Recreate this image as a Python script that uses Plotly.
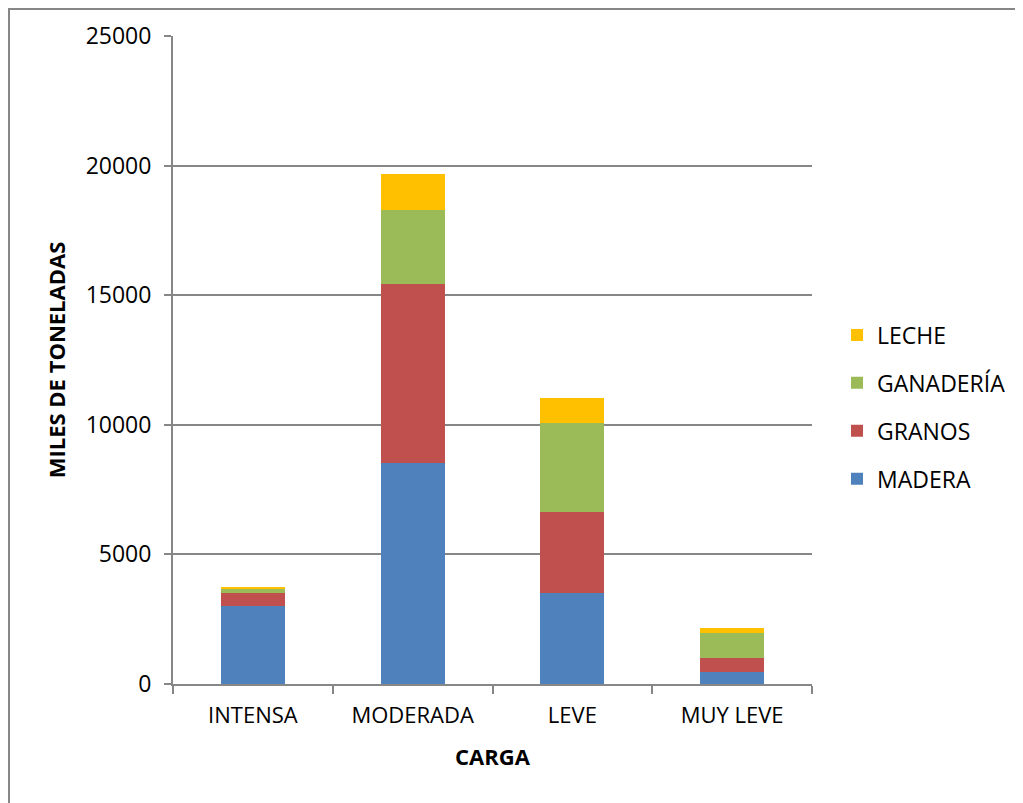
import plotly.graph_objects as go

categories = ["INTENSA", "MODERADA", "LEVE", "MUY LEVE"]
madera = [3020, 8530, 3500, 450]
granos = [500, 6910, 3125, 540]
ganaderia = [145, 2850, 3455, 965]
leche = [40, 1390, 940, 215]
y_ticks = [0, 5000, 10000, 15000, 20000, 25000]
y_tick_labels = ["0", "5000", "10000", "15000", "20000", "25000"]

series = [
    ("MADERA", madera, "#4F81BD", 4),
    ("GRANOS", granos, "#C0504D", 3),
    ("GANADERÍA", ganaderia, "#9BBB59", 2),
    ("LECHE", leche, "#FFC000", 1),
]

FONT = "Open Sans"
fig = go.Figure()
for name, vals, color, rank in series:
    fig.add_trace(go.Bar(
        x=categories, y=vals, name=name, legendgroup=name, legendrank=rank,
        marker=dict(color=color, line=dict(width=0)),
    ))

OFF = 8  # page body margin
W, H = 1023, 803
L, T = 173 - OFF, 36 - OFF
pw, ph = 639, 648
R = W - L - pw
B = H - T - ph

def px_x(x):  # screen px -> paper
    return (x - OFF - L) / pw

def px_y(y):
    return (T + ph - (y - OFF)) / ph

fig.update_layout(
    width=W, height=H,
    barmode="stack", bargap=0.6,
    paper_bgcolor="white", plot_bgcolor="white",
    margin=dict(l=L, r=R, t=T, b=B, pad=0),
    font=dict(family=FONT, size=23, color="#000000"),
    legend=dict(
        x=px_x(837), y=px_y(407), xanchor="left", yanchor="middle",
        traceorder="grouped", tracegroupgap=15,
        font=dict(family=FONT, size=23, color="#000000"),
        itemwidth=30, bgcolor="rgba(0,0,0,0)",
    ),
    xaxis=dict(
        showline=True, linecolor="#878787", linewidth=2,
        ticks="outside", tickson="boundaries", ticklen=8, tickcolor="#878787", tickwidth=2,
        showgrid=False, tickfont=dict(size=22), ticklabelstandoff=11,
        title=dict(text="<b>CARGA</b>", font=dict(size=22), standoff=21),
    ),
    yaxis=dict(
        range=[0, 25000], tickvals=y_ticks, ticktext=y_tick_labels,
        showline=True, linecolor="#878787", linewidth=2,
        ticks="outside", ticklen=7, tickcolor="#878787", tickwidth=2,
        showgrid=True, gridcolor="#878787", gridwidth=2,
        zeroline=False, tickfont=dict(size=23), ticklabelstandoff=8,
        title=dict(text="<b>MILES DE TONELADAS</b>", font=dict(size=22), standoff=14),
    ),
    shapes=[dict(
        type="rect", xref="paper", yref="paper",
        x0=px_x(9), x1=px_x(1060), y0=px_y(840), y1=px_y(9),
        line=dict(color="#878787", width=2), fillcolor="rgba(0,0,0,0)", layer="below",
    )],
)

fig.write_html("out.html")
